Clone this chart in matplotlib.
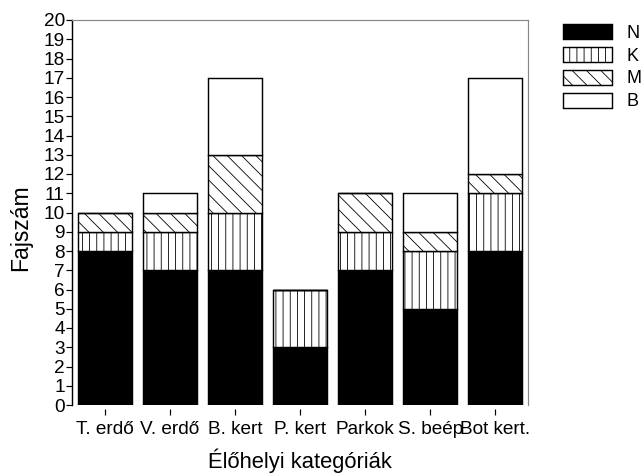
import matplotlib
matplotlib.use("Agg")
import matplotlib.pyplot as plt
import numpy as np

categories = ["T. erdő", "V. erdő", "B. kert", "P. kert", "Parkok", "S. beép", "Bot kert."]
N = [8, 7, 7, 3, 7, 5, 8]
K = [1, 2, 3, 3, 2, 3, 3]
M = [1, 1, 3, 0, 2, 1, 1]
B = [0, 1, 4, 0, 0, 2, 5]
series_names = ["N", "K", "M", "B"]
yticks = list(range(0, 21))

DPI = 86
def pt(px):
    return px * 72.0 / DPI

plt.rcParams['font.family'] = ['Liberation Sans', 'DejaVu Sans']
plt.rcParams['hatch.linewidth'] = 0.7
plt.rcParams['hatch.color'] = 'black'

fig = plt.figure(figsize=(643 / DPI, 473 / DPI), dpi=DPI)
ax = fig.add_axes([72 / 643, 1 - 405 / 473, (528 - 72) / 643, (405 - 20) / 473])

x = np.arange(len(categories))
w = 0.83
styles = [dict(color='black', hatch=None),
          dict(color='white', hatch='||'),
          dict(color='white', hatch='\\\\'),
          dict(color='white', hatch=None)]
bottom = np.zeros(len(categories))
handles = []
for vals, name, st in zip([N, K, M, B], series_names, styles):
    vals = np.array(vals, dtype=float)
    bars = ax.bar(x, vals, w, bottom=bottom, facecolor=st['color'], edgecolor='black',
                  linewidth=1.2, hatch=st['hatch'], label=name)
    handles.append(bars)
    bottom += vals

ax.set_xlim(-0.5, 6.5)
ax.set_ylim(0, 20)
ax.set_yticks(yticks)
ax.set_xticks(x)
ax.set_xticklabels(categories)
ax.tick_params(axis='both', labelsize=pt(19), direction='out', length=5, width=1, color='black')
ax.tick_params(axis='y', pad=1)
ax.tick_params(axis='x', pad=5)

ax.spines['bottom'].set_position(('outward', 3))
ax.spines['bottom'].set_visible(False)
ax.spines['left'].set_color('black')
ax.spines['left'].set_linewidth(1.2)
ax.spines['top'].set_color('#888888')
ax.spines['right'].set_color('#888888')
ax.spines['top'].set_linewidth(1.0)
ax.spines['right'].set_linewidth(1.0)

fig.text(21 / 643, 1 - 228 / 473, "Fajszám", rotation=90, ha='center', va='center', fontsize=pt(23))
fig.text(300 / 643, 1 - 461 / 473, "Élőhelyi kategóriák", ha='center', va='center', fontsize=pt(22))

leg = ax.legend(handles=handles, labels=series_names, loc='upper left',
                bbox_to_anchor=(563 / 643, 1 - 24 / 473), bbox_transform=fig.transFigure,
                frameon=False, fontsize=pt(18), handlelength=2.7, handleheight=0.9,
                labelspacing=0.29, handletextpad=0.8, borderpad=0, borderaxespad=0)

fig.savefig("out.png", dpi=DPI)
